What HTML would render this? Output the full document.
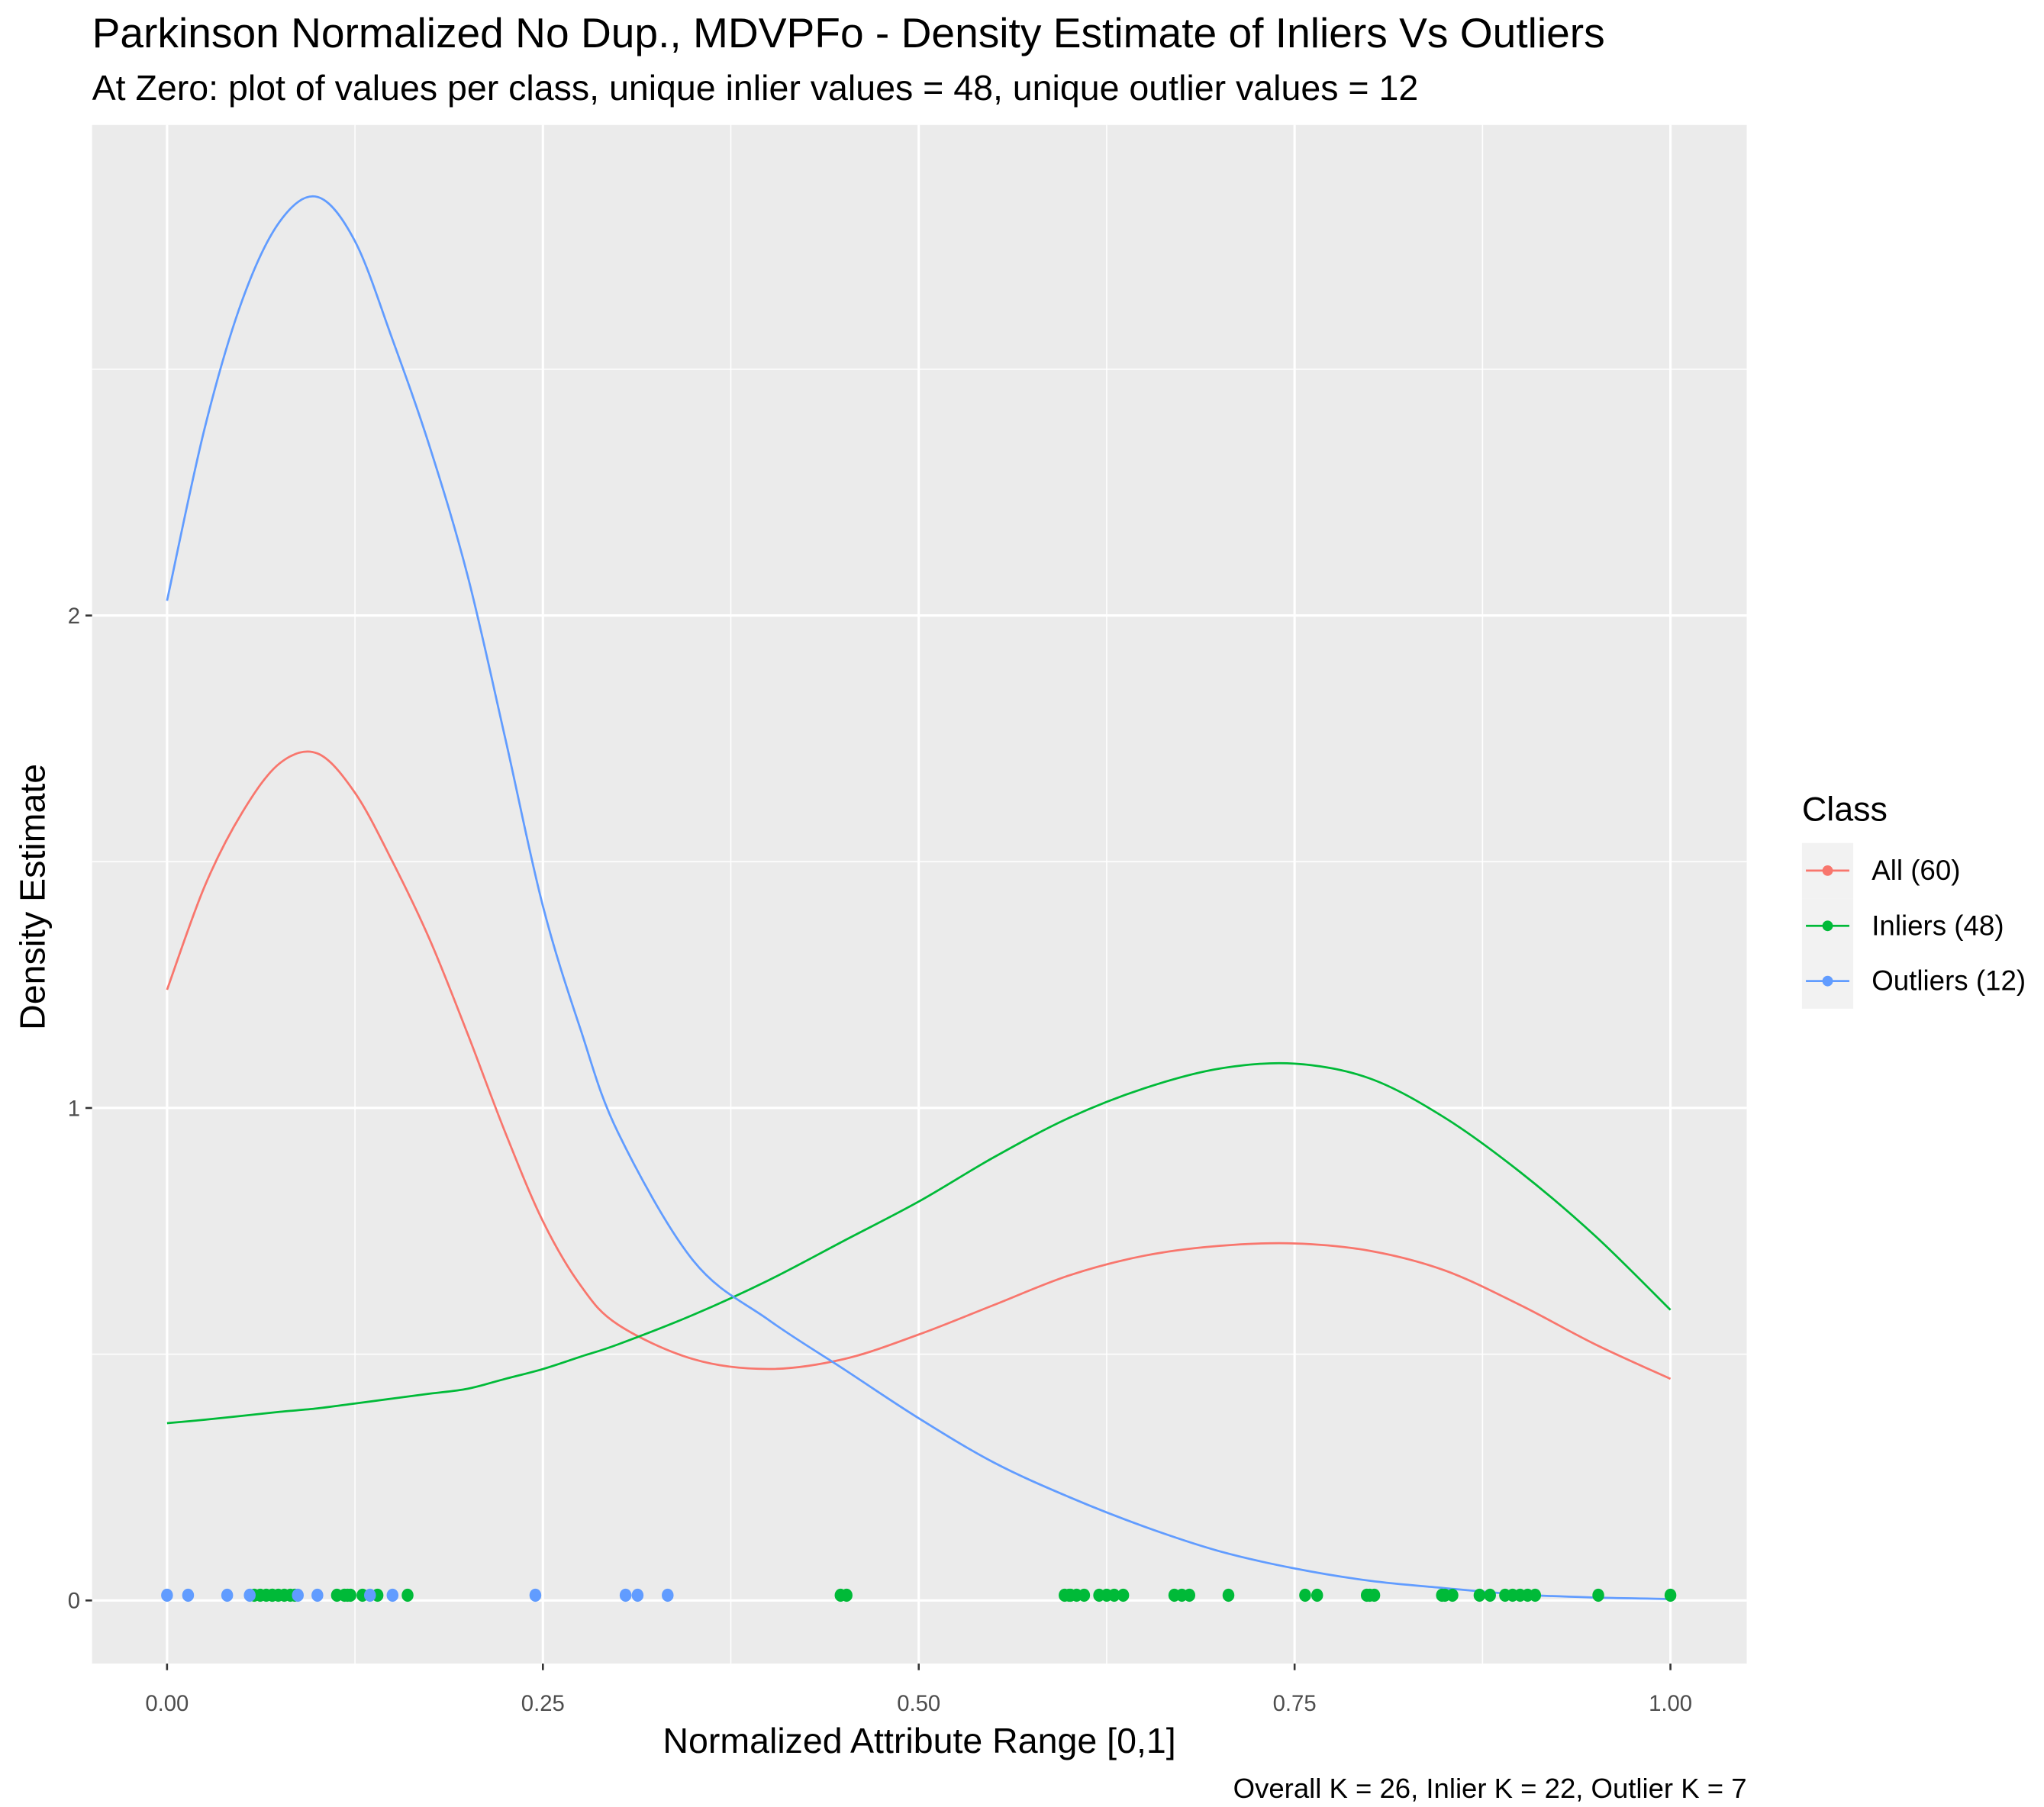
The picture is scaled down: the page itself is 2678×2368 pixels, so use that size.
<!DOCTYPE html>
<html><head><meta charset="utf-8"><style>
html,body{margin:0;padding:0;background:#fff}
svg{display:block;font-family:"Liberation Sans",Arial,sans-serif}
</style></head><body>
<svg id="chart" width="2678" height="2368" viewBox="0 0 1554 1374" xmlns="http://www.w3.org/2000/svg">
<rect width="1554" height="1374" fill="#fff"/>
<text x="70" y="36" font-size="32" fill="#000">Parkinson Normalized No Dup., MDVPFo - Density Estimate of Inliers Vs Outliers</text>
<text x="70" y="76" font-size="27" fill="#000">At Zero: plot of values per class, unique inlier values = 48, unique outlier values = 12</text>
<rect x="70" y="95" width="1258" height="1170" fill="#ebebeb"/>
<g id="grid"></g>
<g id="curves"></g>
<g id="points"></g>
<g id="axes"></g>
<text x="699" y="1333" font-size="27" text-anchor="middle">Normalized Attribute Range [0,1]</text>
<text transform="translate(34,682) rotate(-90)" font-size="27" text-anchor="middle">Density Estimate</text>
<text x="1328" y="1367" font-size="21.2" text-anchor="end">Overall K = 26, Inlier K = 22, Outlier K = 7</text>
<g>
<text x="1370" y="624" font-size="26">Class</text>
<g id="legend"></g>
</g>
</svg>
<script>
const gridX=[0,0.25,0.5,0.75,1];
const gridXLabels=["0.00","0.25","0.50","0.75","1.00"];
const gridY=[0,1,2];
const gridYLabels=["0","1","2"];
const curveX=[0,0.025,0.05,0.075,0.1,0.125,0.15,0.175,0.2,0.225,0.25,0.275,0.3,0.35,0.4,0.45,0.5,0.55,0.6,0.65,0.7,0.75,0.8,0.85,0.9,0.95,1.0];
const allY=[1.24,1.45,1.6,1.7,1.72,1.64,1.5,1.34,1.15,0.95,0.77,0.64,0.56,0.49,0.47,0.49,0.54,0.6,0.66,0.7,0.72,0.725,0.71,0.67,0.6,0.52,0.45];
const inlierY=[0.36,0.367,0.375,0.383,0.39,0.4,0.41,0.42,0.43,0.45,0.47,0.495,0.52,0.58,0.65,0.73,0.81,0.9,0.98,1.04,1.08,1.09,1.06,0.98,0.87,0.74,0.59];
const outlierY=[2.03,2.38,2.64,2.8,2.85,2.76,2.56,2.34,2.08,1.75,1.41,1.16,0.95,0.69,0.57,0.47,0.37,0.28,0.21,0.15,0.1,0.065,0.04,0.025,0.012,0.006,0.003];
const outlierPts=[0,0.014,0.04,0.055,0.087,0.1,0.135,0.15,0.245,0.305,0.313,0.333];
const inlierPts=[0.058,0.062,0.066,0.07,0.074,0.078,0.082,0.085,0.113,0.118,0.122,0.13,0.14,0.16,0.448,0.452,0.597,0.601,0.605,0.61,0.625,0.63,0.636,0.67,0.675,0.706,0.757,0.765,0.798,0.803,0.848,0.855,0.873,0.88,0.89,0.895,0.905,0.91,0.952,1.0,0.6,0.62,0.68,0.8,0.85,0.9,0.12,0.07];
const seriesNames=["All (60)","Inliers (48)","Outliers (12)"];
const colors=["#F8766D","#00BA38","#619CFF"];
const NS="http://www.w3.org/2000/svg";
const sx=v=>127+v*1143, sy=v=>1217-v*374.5;
function mk(tag,attrs,parent){const e=document.createElementNS(NS,tag);for(const k in attrs)e.setAttribute(k,attrs[k]);parent.appendChild(e);return e;}
const grid=document.getElementById('grid');
for(let i=0;i<gridX.length-1;i++){const m=(gridX[i]+gridX[i+1])/2;const l=mk('line',{x1:sx(m),x2:sx(m),y1:95,y2:1265,stroke:'#fff','stroke-width':0.9},grid);}
[0.5,1.5,2.5].forEach(v=>{const l=mk('line',{x1:70,x2:1328,y1:sy(v),y2:sy(v),stroke:'#fff','stroke-width':0.9},grid);});
const axes=document.getElementById('axes');
gridX.forEach((v,i)=>{const l=mk('line',{x1:sx(v),x2:sx(v),y1:95,y2:1265,stroke:'#fff','stroke-width':1.8},grid);
mk('line',{x1:sx(v),x2:sx(v),y1:1265,y2:1270,stroke:'#333','stroke-width':1.5},axes);
const t=mk('text',{x:sx(v),y:1301,'font-size':17,fill:'#4d4d4d','text-anchor':'middle'},axes);t.textContent=gridXLabels[i];});
gridY.forEach((v,i)=>{const l=mk('line',{x1:70,x2:1328,y1:sy(v),y2:sy(v),stroke:'#fff','stroke-width':1.8},grid);
mk('line',{x1:65,x2:70,y1:sy(v),y2:sy(v),stroke:'#333','stroke-width':1.5},axes);
const t=mk('text',{x:61,y:sy(v)+6,'font-size':17,fill:'#4d4d4d','text-anchor':'end'},axes);t.textContent=gridYLabels[i];});
function path(ys){const p=curveX.map((x,i)=>[sx(x),sy(ys[i])]);let d='M'+p[0][0]+','+p[0][1];
for(let i=0;i<p.length-1;i++){const p0=p[Math.max(0,i-1)],p1=p[i],p2=p[i+1],p3=p[Math.min(p.length-1,i+2)];
d+=' C'+(p1[0]+(p2[0]-p0[0])/6)+','+(p1[1]+(p2[1]-p0[1])/6)+' '+(p2[0]-(p3[0]-p1[0])/6)+','+(p2[1]-(p3[1]-p1[1])/6)+' '+p2[0]+','+p2[1];}return d;}
const curves=document.getElementById('curves');
const c1=mk('path',{d:path(allY),fill:'none',stroke:colors[0],'stroke-width':1.6},curves);


const c2=mk('path',{d:path(inlierY),fill:'none',stroke:colors[1],'stroke-width':1.6},curves);


const c3=mk('path',{d:path(outlierY),fill:'none',stroke:colors[2],'stroke-width':1.6},curves);


const pts=document.getElementById('points');
inlierPts.forEach(v=>{const c=mk('ellipse',{cx:sx(v),cy:1213,rx:4.5,ry:5,fill:colors[1]},pts);

});
outlierPts.forEach(v=>{const c=mk('ellipse',{cx:sx(v),cy:1213,rx:4.5,ry:5,fill:colors[2]},pts);

});
const lg=document.getElementById('legend');
seriesNames.forEach((n,i)=>{const y=662+i*42;
const g=mk('g',{},lg);


mk('rect',{x:1370,y:y-21,width:39,height:42,fill:'#f2f2f2'},g);
mk('line',{x1:1373,x2:1406,y1:y,y2:y,stroke:colors[i],'stroke-width':1.6},g);
mk('circle',{cx:1389.5,cy:y,r:4,fill:colors[i]},g);
const t=mk('text',{x:1423,y:y+7,'font-size':21.3},g);t.textContent=n;});
</script>
</body></html>
